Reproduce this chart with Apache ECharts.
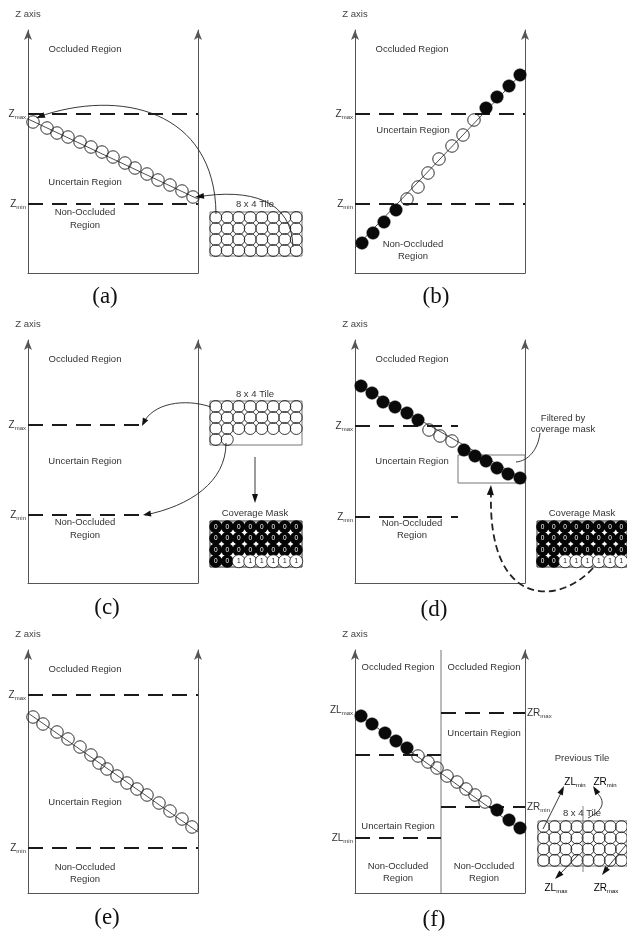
<!DOCTYPE html>
<html>
<head>
<meta charset="utf-8">
<style>html,body{margin:0;padding:0;background:#fff}#main{width:627px;height:935px}</style>
<script src="https://cdn.jsdelivr.net/npm/echarts@6/dist/echarts.min.js"></script>
</head>
<body>
<div id="main"></div>
<script>
// panel units: x 0..170 across the tile, z 0..243 up the Z axis
var aX = [5, 19, 29, 40, 52, 63, 74, 85, 97, 107, 119, 130, 142, 154, 165];
var aZ = [151, 145, 140, 136, 131, 126, 121, 116, 110, 105, 99, 93, 88, 82, 76];
var bX = [7, 18, 29, 41, 52, 63, 73, 84, 97, 108, 119, 131, 142, 154, 165];
var bZ = [30, 40, 51, 63, 74, 86, 100, 114, 127, 138, 153, 165, 176, 187, 198];
var bFill = [1, 1, 1, 1, 0, 0, 0, 0, 0, 0, 0, 1, 1, 1, 1];
var dX = [6, 17, 28, 40, 52, 63, 74, 85, 97, 109, 120, 131, 142, 153, 165];
var dZ = [197, 190, 181, 176, 170, 163, 153, 147, 142, 133, 127, 122, 115, 109, 105];
var dFill = [1, 1, 1, 1, 1, 1, 0, 0, 0, 1, 1, 1, 1, 1, 1];
var eX = [5, 15, 29, 40, 52, 63, 71, 79, 89, 99, 109, 119, 131, 142, 154, 164];
var eZ = [176, 169, 161, 154, 146, 138, 130, 124, 117, 110, 104, 98, 90, 82, 74, 66];
var fX = [6, 17, 30, 41, 52, 63, 73, 82, 92, 102, 111, 120, 130, 142, 154, 165];
var fZ = [177, 169, 160, 152, 145, 137, 131, 125, 117, 111, 104, 98, 91, 83, 73, 65];
var fFill = [1, 1, 1, 1, 1, 0, 0, 0, 0, 0, 0, 0, 0, 1, 1, 1];

// depth lines through the samples
var aSlope = [[0, 154], [170, 74]];
var bSlope = [[0, 25], [170, 203]];
var dSlope = [[0, 200], [170, 103]];
var eSlope = [[0, 180], [170, 61]];
var fSlope = [[0, 181], [170, 60]];

// Zmin / Zmax levels
var abLevels = {min: 69, max: 159};
var cLevels = {min: 68, max: 158};
var dLevels = {min: 66, max: 157};
var eLevels = {min: 45, max: 198};
var fLeft = {min: 55, max: 138, labelMax: 183};
var fRight = {min: 86, max: 180};

// 8 x 4 tiles, top row first
var fullTile = ['11111111', '11111111', '11111111', '11111111'];
var partTile = ['11111111', '11111111', '11111111', '11000000'];
var maskRows = ['00000000', '00000000', '00000000', '00111111'];

var FONT = '"Liberation Sans", Arial, sans-serif';
var AX = '#555';
var RICH = {
  z: {fontSize: 10, lineHeight: 13, color: '#333', fontFamily: FONT},
  s: {fontSize: 6, lineHeight: 7, verticalAlign: 'bottom', color: '#333', fontFamily: FONT}
};

var grids = [], xAxes = [], yAxes = [], series = [];

function yAxisDef(g, pos, labels, name) {
  return {
    type: 'value', gridIndex: g, position: pos, min: 0, max: 243,
    name: name || '', nameLocation: 'end', nameGap: 11,
    nameTextStyle: {fontSize: 9.5, color: '#444', fontFamily: FONT},
    axisLine: {show: true, onZero: false, symbol: ['none', 'arrow'], symbolSize: [6, 10], lineStyle: {color: AX, width: 1}},
    axisTick: {show: false}, splitLine: {show: false},
    axisLabel: labels ? {
      show: true, margin: 2,
      customValues: Object.keys(labels).map(Number),
      formatter: function (v) { var l = labels[v]; return '{z|' + l[0] + '}{s|' + l[1] + '}'; },
      rich: RICH
    } : {show: false}
  };
}

function panel(left, bottom, leftLabels, rightLabels, name) {
  var g = grids.length;
  grids.push({left: left, top: bottom - 243, width: 170, height: 243});
  xAxes.push({type: 'value', gridIndex: g, min: 0, max: 170,
    axisLine: {show: true, onZero: false, lineStyle: {color: AX, width: 1}},
    axisTick: {show: false}, axisLabel: {show: false}, splitLine: {show: false}});
  var y = yAxes.length;
  yAxes.push(yAxisDef(g, 'left', leftLabels, name));
  yAxes.push(yAxisDef(g, 'right', rightLabels));
  return {x: xAxes.length - 1, y: y};
}

function line(p, data, style) {
  series.push({type: 'line', xAxisIndex: p.x, yAxisIndex: p.y, data: data, symbol: 'none',
    silent: true, lineStyle: style, z: 2});
}
function level(p, x0, x1, z) {
  line(p, [[x0, z], [x1, z]], {color: '#1a1a1a', width: 2, type: [15, 9]});
}
function dots(p, xs, zs, fill) {
  series.push({type: 'scatter', xAxisIndex: p.x, yAxisIndex: p.y, symbolSize: 12.5, z: 3, silent: true,
    data: xs.map(function (x, i) {
      var f = fill ? fill[i] : 0;
      return {value: [x, zs[i]], itemStyle: f ? {color: '#0a0a0a', borderColor: '#0a0a0a', borderWidth: 0.5, opacity: 1}
        : {color: 'rgba(0,0,0,0)', borderColor: '#1a1a1a', borderWidth: 0.9, opacity: 1}};
    })});
}
function zLabels(lv) { var o = {}; o[lv.min] = ['Z', 'min']; o[lv.max] = ['Z', 'max']; return o; }

// panels
var pa = panel(28, 273, zLabels(abLevels), null, 'Z axis');
level(pa, 0, 170, abLevels.max); level(pa, 0, 170, abLevels.min);
line(pa, aSlope, {color: '#222', width: 0.8});
dots(pa, aX, aZ);

var pb = panel(355, 273, zLabels(abLevels), null, 'Z axis');
level(pb, 0, 170, abLevels.max); level(pb, 0, 170, abLevels.min);
line(pb, bSlope, {color: '#222', width: 0.8});
dots(pb, bX, bZ, bFill);

var pc = panel(28, 583, zLabels(cLevels), null, 'Z axis');
level(pc, 0, 115, cLevels.max); level(pc, 0, 115, cLevels.min);

var pd = panel(355, 583, zLabels(dLevels), null, 'Z axis');
level(pd, 0, 103, dLevels.max); level(pd, 0, 103, dLevels.min);
line(pd, dSlope, {color: '#222', width: 0.8});
line(pd, [[103, 100], [170, 100], [170, 128], [103, 128], [103, 100]], {color: '#777', width: 1});
dots(pd, dX, dZ, dFill);

var pe = panel(28, 893, zLabels(eLevels), null, 'Z axis');
level(pe, 0, 170, eLevels.max); level(pe, 0, 170, eLevels.min);
line(pe, eSlope, {color: '#222', width: 0.8});
dots(pe, eX, eZ);

var fl = {}; fl[fLeft.min] = ['ZL', 'min']; fl[fLeft.labelMax] = ['ZL', 'max'];
var fr = {}; fr[fRight.min] = ['ZR', 'min']; fr[fRight.max] = ['ZR', 'max'];
var pf = panel(355, 893, fl, fr, 'Z axis');
line(pf, [[86, 0], [86, 243]], {color: '#777', width: 1});
level(pf, 0, 86, fLeft.max); level(pf, 0, 86, fLeft.min);
level(pf, 86, 170, fRight.max); level(pf, 86, 170, fRight.min);
line(pf, fSlope, {color: '#222', width: 0.8});
dots(pf, fX, fZ, fFill);

// tiles
function tile(left, top, h, rows, mask) {
  var g = grids.length;
  grids.push({left: left, top: top, width: 92, height: h, show: true, backgroundColor: '#fff',
    borderColor: mask ? '#222' : '#777', borderWidth: 1});
  xAxes.push({type: 'value', gridIndex: g, min: 0, max: 8, show: false});
  yAxes.push({type: 'value', gridIndex: g, min: 0, max: 4, show: false});
  var p = {x: xAxes.length - 1, y: yAxes.length - 1};
  var data = [];
  rows.forEach(function (row, r) {
    row.split('').forEach(function (ch, c) {
      if (!mask && ch === '0') return;
      var item = {value: [c + 0.5, 3.5 - r, ch]};
      if (mask) {
        item.itemStyle = ch === '0' ? {color: '#050505', borderColor: '#050505', borderWidth: 0, opacity: 1}
          : {color: '#fff', borderColor: '#111', borderWidth: 0.8, opacity: 1};
        item.label = {show: true, formatter: ch, color: ch === '0' ? '#fff' : '#111', fontSize: 6.5,
          fontFamily: FONT, position: 'inside'};
      } else {
        item.itemStyle = {color: 'rgba(0,0,0,0)', borderColor: '#1a1a1a', borderWidth: 0.85, opacity: 1};
      }
      data.push(item);
    });
  });
  series.push({type: 'scatter', xAxisIndex: p.x, yAxisIndex: p.y, symbolSize: mask ? 13 : 12,
    data: data, silent: true, z: 3});
  return p;
}
tile(210, 212, 44, fullTile, false);
tile(210, 401, 44, partTile, false);
tile(210, 521, 46, maskRows, true);
var md = tile(537, 521, 46, maskRows, true);
line(md, [[1.6, -0.15], [8, -0.15]], {color: '#999', width: 1.2, type: [4, 3]});
tile(538, 821, 45, fullTile, false);

// annotations
function txt(x, y, s, size) {
  return {type: 'text', x: x, y: y, silent: true, z: 10,
    style: {text: s, fontSize: size || 9.5, fontFamily: FONT, fill: '#333', align: 'center', verticalAlign: 'middle'}};
}
function sub(x, y, a, b) {
  return {type: 'text', x: x, y: y, z: 10, silent: true,
    style: {text: '{z|' + a + '}{s|' + b + '}', rich: RICH, align: 'center', verticalAlign: 'middle'}};
}
function letter(x, y, s) {
  return {type: 'text', x: x, y: y, z: 10, silent: true,
    style: {text: s, fontSize: 23, fontFamily: '"Liberation Serif", "Times New Roman", serif', fill: '#111',
      align: 'center', verticalAlign: 'middle'}};
}
function curve(p0, c1, c2, p1, dash, w) {
  return {type: 'bezierCurve', z: 10, silent: true,
    shape: {x1: p0[0], y1: p0[1], cpx1: c1[0], cpy1: c1[1], cpx2: c2[0], cpy2: c2[1], x2: p1[0], y2: p1[1]},
    style: {stroke: '#222', lineWidth: w || 0.9, fill: 'none', lineDash: dash || null}};
}
function seg(p0, p1) {
  return {type: 'line', z: 10, silent: true, shape: {x1: p0[0], y1: p0[1], x2: p1[0], y2: p1[1]},
    style: {stroke: '#222', lineWidth: 0.9}};
}
function head(t, f, len, wid) {
  len = len || 9; wid = wid || 6;
  var a = Math.atan2(t[1] - f[1], t[0] - f[0]), c = Math.cos(a), s = Math.sin(a);
  var bx = t[0] - len * c, by = t[1] - len * s;
  return {type: 'polygon', z: 11, silent: true,
    shape: {points: [[t[0], t[1]], [bx - wid / 2 * s, by + wid / 2 * c], [bx + wid / 2 * s, by - wid / 2 * c]]},
    style: {fill: '#111'}};
}

var graphics = [];
[['Occluded Region', 85, 49], ['Uncertain Region', 85, 182], ['Non-Occluded', 85, 212], ['Region', 85, 225],
 ['8 x 4 Tile', 255, 204],
 ['Occluded Region', 412, 49], ['Uncertain Region', 413, 130], ['Non-Occluded', 413, 244], ['Region', 413, 256],
 ['Occluded Region', 85, 359], ['Uncertain Region', 85, 461], ['Non-Occluded', 85, 522], ['Region', 85, 535],
 ['8 x 4 Tile', 255, 394], ['Coverage Mask', 255, 513],
 ['Occluded Region', 412, 359], ['Uncertain Region', 412, 461], ['Non-Occluded', 412, 523], ['Region', 412, 535],
 ['Filtered by', 563, 418], ['coverage mask', 563, 429], ['Coverage Mask', 582, 513],
 ['Occluded Region', 85, 669], ['Uncertain Region', 85, 802], ['Non-Occluded', 85, 867], ['Region', 85, 879],
 ['Occluded Region', 398, 667], ['Occluded Region', 484, 667], ['Uncertain Region', 484, 733],
 ['Uncertain Region', 398, 826], ['Non-Occluded', 398, 866], ['Region', 398, 878],
 ['Non-Occluded', 484, 866], ['Region', 484, 878], ['Previous Tile', 582, 758], ['8 x 4 Tile', 582, 813]
].forEach(function (t) { graphics.push(txt(t[1], t[2], t[0])); });

graphics.push(sub(575, 782, 'ZL', 'min'), sub(605, 782, 'ZR', 'min'), sub(556, 888, 'ZL', 'max'), sub(606, 888, 'ZR', 'max'));
graphics.push(letter(105, 297, '(a)'), letter(436, 297, '(b)'), letter(107, 608, '(c)'),
  letter(434, 610, '(d)'), letter(107, 918, '(e)'), letter(434, 920, '(f)'));

// (a) tile to Zmax / Zmin samples
graphics.push(curve([216, 214], [215, 110], [120, 88], [38, 117]), head([36, 118], [120, 88]));
graphics.push(curve([293, 247], [292, 200], [250, 188], [197, 197]), head([195, 197], [250, 190]));
// (c)
graphics.push(curve([211, 407], [185, 398], [152, 403], [143, 424]), head([142, 426], [150, 410], 8, 6));
graphics.push(curve([226, 443], [226, 482], [190, 506], [145, 515]), head([143, 515], [170, 510], 8, 6));
graphics.push(seg([255, 457], [255, 495]), head([255, 503], [255, 490], 9, 6));
// (d)
graphics.push(curve([540, 433], [538, 450], [528, 461], [516, 462]));
graphics.push(curve([593, 568], [560, 605], [488, 610], [491, 494], [7, 4], 1.8), head([491, 485], [490, 500], 10, 7));
// (f)
graphics.push(seg([543, 829], [561, 793]), head([564, 786], [555, 805], 9, 6));
graphics.push(curve([588, 818], [608, 808], [603, 798], [596, 792]), head([593, 786], [600, 797], 9, 6));
graphics.push(seg([578, 855], [561, 873]), head([555, 879], [570, 864], 9, 6));
graphics.push(seg([626, 845], [607, 868]), head([602, 875], [615, 858], 9, 6));
graphics.push({type: 'line', z: 9, silent: true, shape: {x1: 583, y1: 806, x2: 583, y2: 872}, style: {stroke: '#666', lineWidth: 0.8}});

var chart = echarts.init(document.getElementById('main'), null, {width: 627, height: 935});
chart.setOption({
  backgroundColor: '#fff',
  animation: false,
  grid: grids,
  xAxis: xAxes,
  yAxis: yAxes,
  series: series,
  graphic: graphics
});
</script>
</body>
</html>
